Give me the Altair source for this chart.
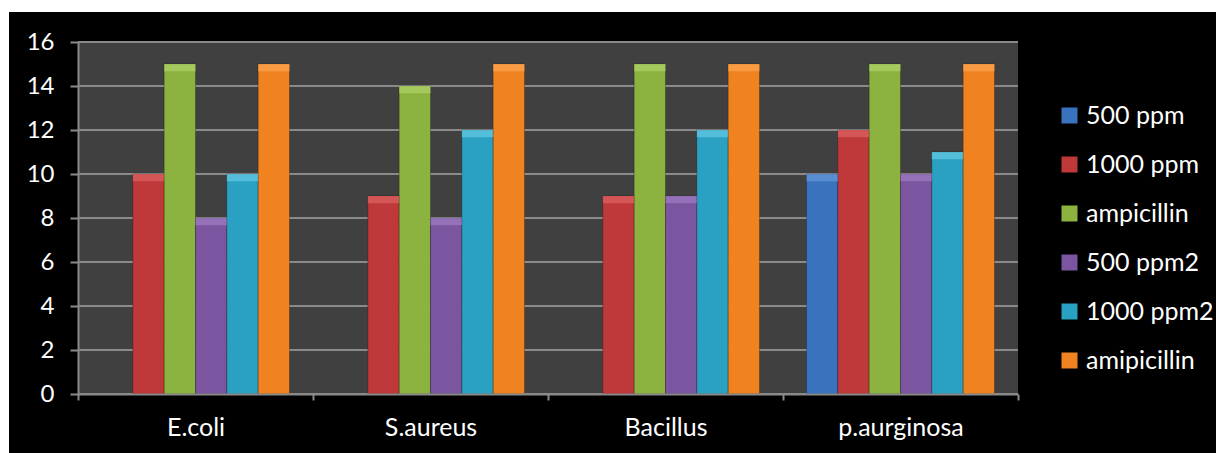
import altair as alt
import pandas as pd

categories = ["E.coli", "S.aureus", "Bacillus", "p.aurginosa"]
series = ["500 ppm", "1000 ppm", "ampicillin", "500 ppm2", "1000 ppm2", "amipicillin"]
colors = ["#3a73bd", "#bf383a", "#8cb23f", "#7b559f", "#2aa1c3", "#f0831f"]
cap_colors = ["#6d9fe0", "#e26a6a", "#b5d870", "#a583c9", "#6fd0ea", "#ffac5a"]

values = {
    "500 ppm":     [None, None, None, 10],
    "1000 ppm":    [10, 9, 9, 12],
    "ampicillin":  [15, 14, 15, 15],
    "500 ppm2":    [8, 8, 9, 10],
    "1000 ppm2":   [10, 12, 12, 11],
    "amipicillin": [15, 15, 15, 15],
}
y_ticks = [0, 2, 4, 6, 8, 10, 12, 14, 16]

rows = []
for s in series:
    for c, v in zip(categories, values[s]):
        if v is not None:
            rows.append({"cat": c, "series": s, "value": v})
df = pd.DataFrame(rows)

W, H = 940, 352
FONT = "Lato"

xenc = alt.X("cat:N", sort=categories,
             scale=alt.Scale(paddingInner=0, paddingOuter=0),
             axis=alt.Axis(title=None, labelAngle=0, tickBand="extent",
                           domainColor="#8a8a8a", domainWidth=2, tickColor="#8a8a8a",
                           tickWidth=2, tickSize=6, labelColor="white", labelFont=FONT,
                           labelFontSize=25, labelPadding=15, zindex=1))
xoff = alt.XOffset("series:N", sort=series,
                   scale=alt.Scale(domain=series, paddingInner=0, paddingOuter=0.75))
yscale = alt.Scale(domain=[0, 16])

# decorative backgrounds (chart frame and plot area)
frame = alt.Chart(pd.DataFrame({"a": [0]})).mark_rect(color="black", clip=False).encode(
    x=alt.value(-69), x2=alt.value(1138), y=alt.value(-30), y2=alt.value(411))
plotbg = alt.Chart(pd.DataFrame({"a": [0]})).mark_rect(color="#404040").encode(
    x=alt.value(0), x2=alt.value(W), y=alt.value(0), y2=alt.value(H))

grid = alt.Chart(pd.DataFrame({"t": y_ticks})).mark_rule(color="#8a8a8a", strokeWidth=2).encode(
    y=alt.Y("t:Q", scale=yscale))

bars = alt.Chart(df).mark_bar(stroke="#00000040", strokeWidth=1).encode(
    x=xenc, xOffset=xoff,
    y=alt.Y("value:Q", scale=yscale,
            axis=alt.Axis(title=None, values=y_ticks, grid=False,
                          domainColor="#8a8a8a", domainWidth=2, tickColor="#8a8a8a",
                          tickWidth=2, tickSize=8, labelColor="white", labelFont=FONT,
                          labelFontSize=24, labelPadding=16, zindex=1)),
    color=alt.Color("series:N", sort=series,
                    scale=alt.Scale(domain=series, range=colors),
                    legend=alt.Legend(title=None, orient="none", legendX=979, legendY=61,
                                      symbolType="square", symbolSize=256,
                                      symbolStrokeWidth=0, labelColor="white",
                                      labelFont=FONT, labelFontSize=25, labelOffset=4,
                                      rowPadding=23, zindex=1)),
)

caps = alt.Chart(df).transform_calculate(top="datum.value - 0.33").mark_bar(opacity=0.6).encode(
    x=alt.X("cat:N", sort=categories), xOffset=xoff,
    y=alt.Y("value:Q", scale=yscale), y2="top:Q",
    color=alt.Color("series:N", scale=alt.Scale(domain=series, range=cap_colors), legend=None),
)

chart = alt.layer(frame, plotbg, grid, bars, caps).resolve_scale(color="independent").properties(
    width=W, height=H,
    autosize=alt.AutoSizeParams(type="none"),
    padding={"left": 78, "top": 42, "right": 198, "bottom": 59},
    background="white",
).configure_view(stroke=None)

chart.save("out.html", embed_options={"renderer": "svg", "actions": False})
